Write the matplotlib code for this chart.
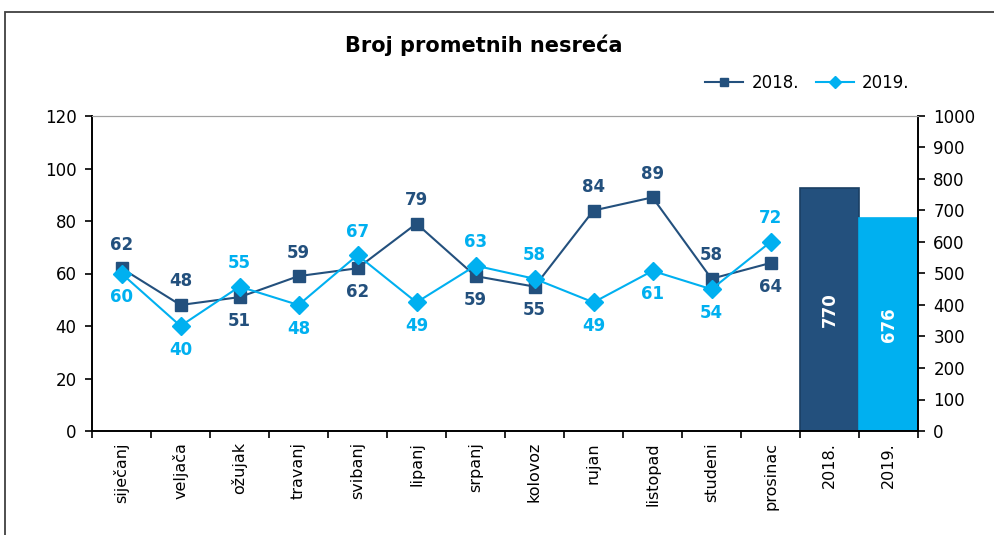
import numpy as np
import matplotlib.pyplot as plt
from matplotlib.patches import Rectangle

plt.rcParams['font.family'] = ['DejaVu Sans']

mjeseci = ['siječanj', 'veljača', 'ožujak', 'travanj', 'svibanj', 'lipanj',
           'srpanj', 'kolovoz', 'rujan', 'listopad', 'studeni', 'prosinac']
godine = ['2018.', '2019.']
n2018 = [62, 48, 51, 59, 62, 79, 59, 55, 84, 89, 58, 64]
n2019 = [60, 40, 55, 48, 67, 49, 63, 58, 49, 61, 54, 72]
ukupno = [770, 676]

# gdje ide oznaka: +1 iznad, -1 ispod
poz2018 = [1, 1, -1, 1, -1, 1, -1, -1, 1, 1, 1, -1]
poz2019 = [-1, -1, 1, -1, 1, -1, 1, 1, -1, -1, -1, 1]

tamna = '#23507d'
svijetla = '#00b0f0'

fig = plt.figure(figsize=(9.94, 5.35), dpi=100)
ax = fig.add_axes([92/994, 1-431/535, (918-92)/994, (431-116)/535])
ax2 = ax.twinx()

x = np.arange(len(mjeseci))
ax.plot(x, n2018, color=tamna, lw=1.5, marker='s', ms=9, label='2018.', zorder=3)
ax.plot(x, n2019, color=svijetla, lw=1.5, marker='D', ms=9, label='2019.', zorder=4)

for i in range(len(mjeseci)):
    ax.annotate(str(n2018[i]), (x[i], n2018[i]), xytext=(0, 17*poz2018[i]),
                textcoords='offset points', ha='center', va='center',
                fontsize=12, fontweight='bold', color=tamna)
    ax.annotate(str(n2019[i]), (x[i], n2019[i]), xytext=(0, 17*poz2019[i]),
                textcoords='offset points', ha='center', va='center',
                fontsize=12, fontweight='bold', color=svijetla)

xb = np.arange(len(mjeseci), len(mjeseci) + 2)
bars = ax2.bar(xb, ukupno, width=1.0, color=[tamna, svijetla],
               edgecolor=['#1a3f63', svijetla], lw=1.2, zorder=2)
for xi, v in zip(xb, ukupno):
    ax2.text(xi, v/2, str(v), rotation=90, ha='center', va='center',
             color='white', fontsize=12, fontweight='bold')

ax.set_xlim(-0.5, 13.5)
ax.set_ylim(0, 120)
ax.set_yticks(range(0, 121, 20))
ax2.set_ylim(0, 1000)
ax2.set_yticks(range(0, 1001, 100))

ax.set_xticks(np.arange(14))
ax.set_xticklabels(mjeseci + godine, rotation=90, fontsize=11.5)
ax.set_xticks(np.arange(-0.5, 14, 1), minor=True)
ax.tick_params(axis='x', which='major', length=0, pad=8)
ax.tick_params(axis='x', which='minor', length=5, width=1.2)
ax.tick_params(axis='y', labelsize=12, length=5, width=1.2, pad=6)
ax2.tick_params(axis='y', labelsize=12, length=5, width=1.2, pad=6)

for a in (ax, ax2):
    a.spines['top'].set_color('#a0a0a0')
    a.spines['left'].set_linewidth(1.2)
    a.spines['right'].set_linewidth(1.2)
    a.spines['bottom'].set_linewidth(1.2)

ax.set_zorder(ax2.get_zorder() + 1)
ax.patch.set_visible(False)

fig.text(0.487, 1-45/535, 'Broj prometnih nesreća', ha='center', va='center',
         fontsize=15, fontweight='bold')
ax.legend(loc='center right', bbox_to_anchor=(0.99, 1.105), ncol=2, frameon=False,
          fontsize=12, handlelength=2.3, markerscale=0.7, columnspacing=1.0,
          handletextpad=0.5, borderpad=0, borderaxespad=0)

fig.patches.append(Rectangle((5/994, -0.1), 1.2, 1 - 12/535 + 0.1,
                             transform=fig.transFigure, fill=False,
                             edgecolor='#404040', lw=1.3))

plt.savefig('out.png', dpi=100)
